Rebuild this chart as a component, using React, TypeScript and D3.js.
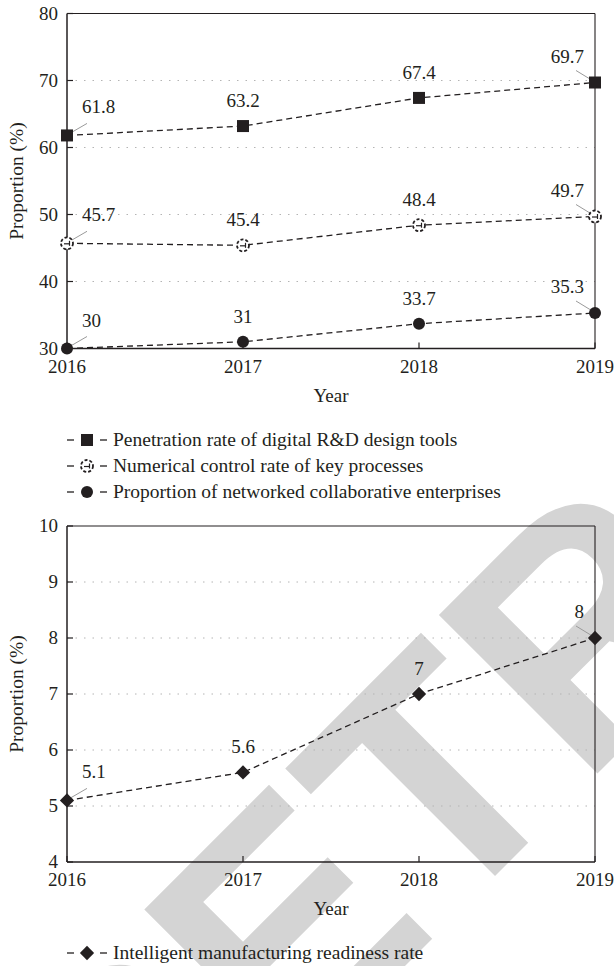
import * as d3 from 'd3';

// data
const years = [2016, 2017, 2018, 2019];
const digitalRD = [61.8, 63.2, 67.4, 69.7];
const ncRate = [45.7, 45.4, 48.4, 49.7];
const networked = [30, 31, 33.7, 35.3];
const readiness = [5.1, 5.6, 7, 8];
const topTicks = [30, 40, 50, 60, 70, 80];
const bottomTicks = [4, 5, 6, 7, 8, 9, 10];
const topLegend = [
  'Penetration rate of digital R&D design tools',
  'Numerical control rate of key processes',
  'Proportion of networked collaborative enterprises',
];
const bottomLegend = ['Intelligent manufacturing readiness rate'];

const FONT = '"Liberation Serif", "DejaVu Serif", "Liberation Sans", serif';
const INK = '#231f20';
const txt = { fontFamily: FONT };

const x = d3.scaleLinear().domain([2016, 2019]).range([67, 595]);
const yTop = d3.scaleLinear().domain([30, 80]).range([348.5, 13.5]);
const yBot = d3.scaleLinear().domain([4, 10]).range([862, 526]);

type MarkerType = 'square' | 'nc' | 'circle' | 'diamond';

const Marker = ({ type, cx, cy }: { type: MarkerType; cx: number; cy: number }) => {
  if (type === 'square') return <rect x={cx - 6} y={cy - 6} width={12} height={12} fill={INK} />;
  if (type === 'circle') return <circle cx={cx} cy={cy} r={6} fill={INK} />;
  if (type === 'diamond') {
    const d = d3.symbol(d3.symbolDiamond2, 130)();
    return <path d={d || ''} transform={`translate(${cx},${cy})`} fill={INK} />;
  }
  return (
    <g transform={`translate(${cx},${cy})`}>
      <circle r={6} fill="#fff" stroke={INK} strokeWidth={1.8} strokeDasharray="3,2" />
      <line x1={-3} x2={2} y1={0.5} y2={0.5} stroke={INK} strokeWidth={1.2} />
      <line x1={2.5} x2={2.5} y1={-2.5} y2={2.5} stroke={INK} strokeWidth={1.2} />
    </g>
  );
};

interface Series {
  values: number[];
  marker: MarkerType;
}

const Panel = ({ y, ticks, series }: { y: d3.ScaleLinear<number, number>; ticks: number[]; series: Series[] }) => {
  const [x0, x1] = x.range();
  const [yb, yt] = y.range();
  const line = d3.line<number>().x((_, i) => x(years[i])).y((v) => y(v));
  return (
    <g>
      {/* grid */}
      {ticks.slice(1, -1).map((t) => (
        <line key={t} x1={x0} x2={x1} y1={y(t)} y2={y(t)} stroke="#b4b4b4" strokeWidth={1} strokeDasharray="1.5,7" />
      ))}
      {/* frame */}
      <line x1={x0} x2={x1} y1={yt} y2={yt} stroke={INK} strokeWidth={1.1} />
      <line x1={x1} x2={x1} y1={yt} y2={yb} stroke={INK} strokeWidth={1.1} />
      <line x1={x0} x2={x0} y1={yt} y2={yb} stroke={INK} strokeWidth={1.5} />
      <line x1={x0} x2={x1} y1={yb} y2={yb} stroke={INK} strokeWidth={1.5} />
      {ticks.map((t) => (
        <g key={t}>
          <line x1={x0} x2={x0 + 6} y1={y(t)} y2={y(t)} stroke={INK} strokeWidth={1.2} />
          <text x={58} y={y(t) + 6} textAnchor="end" style={txt} fontSize={19} fill={INK}>{t}</text>
        </g>
      ))}
      {years.map((yr) => (
        <g key={yr}>
          <line x1={x(yr)} x2={x(yr)} y1={yb} y2={yb - 6} stroke={INK} strokeWidth={1.2} />
          <text x={x(yr)} y={yb + 24} textAnchor="middle" style={txt} fontSize={19} fill={INK}>{yr}</text>
        </g>
      ))}
      {series.map((s, si) => (
        <g key={si}>
          <path d={line(s.values) || ''} fill="none" stroke={INK} strokeWidth={1.3} strokeDasharray="6,4" />
          {s.values.map((v, i) => {
            const px = x(years[i]);
            const py = y(v);
            const last = i === years.length - 1;
            if (i === 0) {
              return (
                <g key={i}>
                  <line x1={px + 1} y1={py - 1} x2={px + 20} y2={py - 12} stroke="#9a9a9a" strokeWidth={1} />
                  <text x={px + 15} y={py - 22} style={txt} fontSize={19} fill={INK}>{v}</text>
                </g>
              );
            }
            if (last) {
              return (
                <g key={i}>
                  <line x1={px - 19} y1={py - 12} x2={px - 1} y2={py - 1} stroke="#9a9a9a" strokeWidth={1} />
                  <text x={px - 11} y={py - 20} textAnchor="end" style={txt} fontSize={19} fill={INK}>{v}</text>
                </g>
              );
            }
            return (
              <text key={i} x={px} y={py - 19} textAnchor="middle" style={txt} fontSize={19} fill={INK}>{v}</text>
            );
          })}
          {s.values.map((v, i) => (
            <Marker key={`m${i}`} type={s.marker} cx={x(years[i])} cy={y(v)} />
          ))}
        </g>
      ))}
      <text
        transform={`translate(23,${(yt + yb) / 2}) rotate(-90)`}
        textAnchor="middle"
        style={txt}
        fontSize={19.5}
        fill={INK}
      >
        Proportion (%)
      </text>
      <text x={(x0 + x1) / 2} y={yb + 53} textAnchor="middle" style={txt} fontSize={19} fill={INK}>Year</text>
    </g>
  );
};

const LegendRow = ({ marker, label, y }: { marker: MarkerType; label: string; y: number }) => (
  <g>
    <line x1={67} x2={74} y1={y - 6} y2={y - 6} stroke={INK} strokeWidth={1.3} />
    <line x1={100} x2={107} y1={y - 6} y2={y - 6} stroke={INK} strokeWidth={1.3} />
    <Marker type={marker} cx={87} cy={y - 6} />
    <text x={113} y={y} style={txt} fontSize={19.5} fill={INK}>{label}</text>
  </g>
);

export default function App() {
  const topSeries: Series[] = [
    { values: digitalRD, marker: 'square' },
    { values: ncRate, marker: 'nc' },
    { values: networked, marker: 'circle' },
  ];
  const topMarkers: MarkerType[] = ['square', 'nc', 'circle'];
  return (
    <svg width={614} height={966} style={{ position: 'absolute', left: 0, top: 0, background: '#fff' }}>
      <rect width={614} height={966} fill="#fff" />
      {/* retraction watermark */}
      <text
        transform="translate(121,1250) rotate(-45)"
        style={{ fontFamily: '"Liberation Sans", Arial, sans-serif' }}
        fontWeight="bold"
        fontSize={326}
        fill="#d4d4d4"
      >
        RETRACTED
      </text>
      <Panel y={yTop} ticks={topTicks} series={topSeries} />
      {topLegend.map((l, i) => (
        <LegendRow key={l} marker={topMarkers[i]} label={l} y={446 + i * 26} />
      ))}
      <Panel y={yBot} ticks={bottomTicks} series={[{ values: readiness, marker: 'diamond' }]} />
      {bottomLegend.map((l) => (
        <LegendRow key={l} marker="diamond" label={l} y={959} />
      ))}
    </svg>
  );
}
